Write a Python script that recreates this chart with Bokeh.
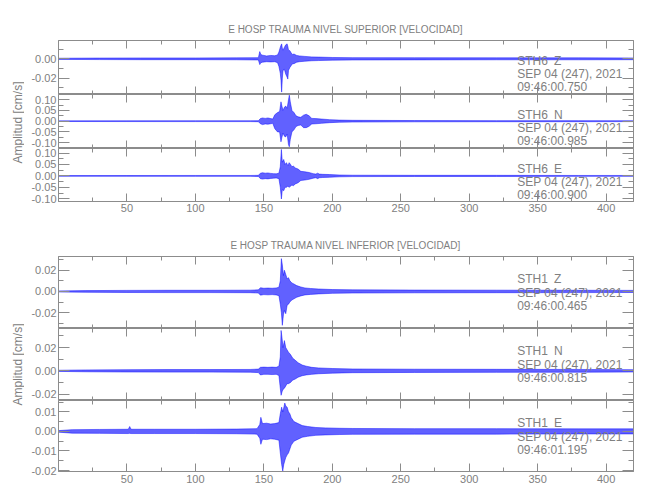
from bokeh.plotting import figure
from bokeh.models import Range1d, LinearAxis, FixedTicker, PrintfTickFormatter, Label, ColumnDataSource
from bokeh.layouts import column, row
from bokeh.embed import file_html
from bokeh.resources import INLINE

# ---------------- data (envelopes, cm/s vs seconds) ----------------
TITLE_TOP = "E HOSP TRAUMA NIVEL SUPERIOR [VELOCIDAD]"
TITLE_BOTTOM = "E HOSP TRAUMA NIVEL INFERIOR [VELOCIDAD]"
Y_LABEL = "Amplitud [cm/s]"

X_TICKS = [50, 100, 150, 200, 250, 300, 350, 400]
X_MINOR = [25, 75, 125, 175, 225, 275, 325, 375]

# STH6 Z
t1 = [0, 30, 60, 100, 130, 146, 147, 147.8, 149, 152, 155, 158, 160, 161, 162, 162.5, 163, 163.5, 164, 165, 166, 167, 167.5, 168, 169, 170, 171, 172, 174, 176, 180, 185, 190, 200, 215, 260, 320, 380, 420]
up1 = [0.0006, 0.0008, 0.0009, 0.0009, 0.001, 0.0012, 0.0075, 0.0045, 0.0038, 0.003, 0.0035, 0.0032, 0.004, 0.007, 0.012, 0.014, 0.0155, 0.011, 0.009, 0.012, 0.0145, 0.0155, 0.013, 0.009, 0.0085, 0.006, 0.0045, 0.005, 0.0035, 0.003, 0.0025, 0.002, 0.0018, 0.0014, 0.0012, 0.0011, 0.001, 0.001, 0.0009]
lo1 = [-0.0006, -0.0008, -0.0009, -0.0009, -0.001, -0.0012, -0.006, -0.004, -0.0035, -0.003, -0.0032, -0.003, -0.004, -0.008, -0.015, -0.022, -0.0345, -0.02, -0.012, -0.011, -0.016, -0.019, -0.021, -0.012, -0.009, -0.007, -0.005, -0.005, -0.0035, -0.003, -0.0025, -0.002, -0.0018, -0.0014, -0.0012, -0.0011, -0.001, -0.001, -0.0009]

# STH6 N
t2 = [0, 50, 100, 140, 146, 147.5, 149, 151, 153, 155, 156.5, 158, 160, 161.5, 162.5, 163.2, 164, 165, 166, 167, 168, 168.6, 169.3, 170.5, 172, 173.5, 175, 177, 179, 181, 183, 185, 188, 192, 198, 205, 215, 260, 320, 380, 420]
up2 = [0.0015, 0.0018, 0.002, 0.002, 0.0025, 0.012, 0.015, 0.013, 0.015, 0.012, 0.01, 0.03, 0.04, 0.045, 0.09, 0.07, 0.05, 0.065, 0.07, 0.06, 0.1, 0.121, 0.09, 0.05, 0.04, 0.025, 0.02, 0.018, 0.028, 0.032, 0.025, 0.013, 0.012, 0.01, 0.007, 0.005, 0.004, 0.003, 0.0025, 0.0025, 0.002]
lo2 = [-0.0015, -0.0018, -0.002, -0.002, -0.0025, -0.012, -0.016, -0.013, -0.014, -0.012, -0.01, -0.035, -0.05, -0.05, -0.096, -0.075, -0.055, -0.07, -0.073, -0.06, -0.11, -0.119, -0.085, -0.05, -0.04, -0.025, -0.02, -0.018, -0.03, -0.03, -0.024, -0.013, -0.012, -0.01, -0.007, -0.005, -0.004, -0.003, -0.0025, -0.0025, -0.002]

# STH6 E
t3 = [0, 50, 100, 140, 146, 147.5, 149, 151, 153, 155, 157, 159, 161, 162, 162.8, 163.5, 164.5, 165.5, 166.5, 167.5, 168.5, 169.5, 170.5, 171.5, 173, 175, 177, 180, 183, 186, 188, 189.3, 190.5, 193, 198, 205, 215, 260, 320, 380, 420]
up3 = [0.0015, 0.0018, 0.002, 0.002, 0.0025, 0.012, 0.014, 0.012, 0.013, 0.011, 0.01, 0.009, 0.012, 0.04, 0.116, 0.06, 0.072, 0.05, 0.058, 0.045, 0.058, 0.05, 0.04, 0.043, 0.035, 0.03, 0.02, 0.018, 0.015, 0.01, 0.008, 0.012, 0.008, 0.007, 0.006, 0.004, 0.003, 0.0025, 0.0025, 0.002, 0.002]
lo3 = [-0.0015, -0.0018, -0.002, -0.002, -0.0025, -0.012, -0.014, -0.012, -0.013, -0.011, -0.01, -0.009, -0.012, -0.05, -0.101, -0.06, -0.065, -0.05, -0.05, -0.045, -0.05, -0.045, -0.04, -0.043, -0.035, -0.03, -0.02, -0.018, -0.015, -0.01, -0.008, -0.012, -0.008, -0.007, -0.006, -0.004, -0.003, -0.0025, -0.0025, -0.002, -0.002]

# STH1 Z
t4 = [0, 20, 50, 80, 110, 140, 146, 147.5, 150, 153, 156, 159, 161, 162, 162.8, 163.5, 164.3, 165, 166, 167, 168, 169, 170.5, 172, 174, 177, 180, 184, 190, 200, 215, 260, 320, 380, 420]
up4 = [0.0005, 0.0008, 0.001, 0.0011, 0.0011, 0.0012, 0.0015, 0.0035, 0.003, 0.0032, 0.003, 0.0033, 0.004, 0.01, 0.031, 0.025, 0.015, 0.02, 0.016, 0.012, 0.013, 0.01, 0.008, 0.007, 0.0055, 0.0042, 0.0033, 0.0028, 0.0023, 0.0018, 0.0015, 0.0013, 0.0012, 0.0011, 0.001]
lo4 = [-0.0005, -0.0008, -0.001, -0.0011, -0.0011, -0.0012, -0.0015, -0.0035, -0.003, -0.0032, -0.003, -0.0033, -0.004, -0.012, -0.02, -0.032, -0.022, -0.018, -0.021, -0.013, -0.012, -0.01, -0.008, -0.007, -0.0055, -0.0042, -0.0033, -0.0028, -0.0023, -0.0018, -0.0015, -0.0013, -0.0012, -0.0011, -0.001]

# STH1 N
t5 = [0, 20, 50, 80, 110, 140, 146, 147.5, 150, 153, 156, 159, 161, 162, 162.6, 163.3, 164, 165, 166, 167, 168, 169.5, 171, 173, 175, 178, 181, 185, 190, 200, 215, 260, 320, 380, 420]
up5 = [0.0005, 0.0008, 0.001, 0.0011, 0.0011, 0.0012, 0.0015, 0.003, 0.0032, 0.003, 0.0032, 0.003, 0.004, 0.012, 0.0347, 0.028, 0.02, 0.026, 0.02, 0.018, 0.016, 0.014, 0.011, 0.009, 0.007, 0.005, 0.004, 0.003, 0.0025, 0.002, 0.0016, 0.0014, 0.0013, 0.0012, 0.001]
lo5 = [-0.0005, -0.0008, -0.001, -0.0011, -0.0011, -0.0012, -0.0015, -0.0035, -0.003, -0.003, -0.0032, -0.003, -0.004, -0.015, -0.021, -0.018, -0.016, -0.015, -0.013, -0.011, -0.011, -0.01, -0.008, -0.007, -0.0055, -0.0042, -0.0035, -0.003, -0.0025, -0.002, -0.0016, -0.0014, -0.0013, -0.0012, -0.001]

# STH1 E
t6 = [0, 10, 30, 51, 52, 53, 70, 100, 130, 145, 147, 147.8, 149, 152, 155, 158, 161, 162, 163, 163.8, 164.5, 165.3, 166, 167, 168, 169, 170, 172, 175, 178, 182, 188, 195, 205, 215, 260, 320, 380, 420]
up6 = [0.0004, 0.0009, 0.001, 0.0011, 0.0025, 0.0011, 0.0011, 0.0011, 0.0012, 0.0014, 0.0035, 0.0072, 0.004, 0.0042, 0.0038, 0.004, 0.0045, 0.009, 0.0124, 0.01, 0.012, 0.0145, 0.013, 0.0124, 0.01, 0.009, 0.007, 0.005, 0.004, 0.003, 0.0025, 0.002, 0.0018, 0.0016, 0.0015, 0.0014, 0.0014, 0.0013, 0.0013]
lo6 = [-0.0004, -0.0009, -0.001, -0.0011, -0.001, -0.0011, -0.0011, -0.0011, -0.0012, -0.0014, -0.0035, -0.0066, -0.004, -0.0042, -0.0038, -0.004, -0.0045, -0.011, -0.0169, -0.0203, -0.017, -0.015, -0.0134, -0.012, -0.011, -0.009, -0.007, -0.005, -0.004, -0.003, -0.0025, -0.002, -0.0018, -0.0016, -0.0015, -0.0014, -0.0014, -0.0013, -0.0013]

STATION1, COMP1, DATE1, TIME1 = "STH6", "Z", "SEP 04 (247), 2021", "09:46:00.750"
STATION2, COMP2, DATE2, TIME2 = "STH6", "N", "SEP 04 (247), 2021", "09:46:00.985"
STATION3, COMP3, DATE3, TIME3 = "STH6", "E", "SEP 04 (247), 2021", "09:46:00.900"
STATION4, COMP4, DATE4, TIME4 = "STH1", "Z", "SEP 04 (247), 2021", "09:46:00.465"
STATION5, COMP5, DATE5, TIME5 = "STH1", "N", "SEP 04 (247), 2021", "09:46:00.815"
STATION6, COMP6, DATE6, TIME6 = "STH1", "E", "SEP 04 (247), 2021", "09:46:01.195"

Y1_TICKS = [-0.02, 0.0]
Y2_TICKS = [-0.10, -0.05, 0.0, 0.05, 0.10]
Y3_TICKS = [-0.10, -0.05, 0.0, 0.05, 0.10]
Y4_TICKS = [-0.02, 0.0, 0.02]
Y5_TICKS = [-0.02, 0.0, 0.02]
Y6_TICKS = [-0.02, -0.01, 0.0, 0.01]

# ---------------- styling ----------------
FONT = "Liberation Sans"
GRAY = "#808080"
AXIS_GRAY = "#8c8c8c"
BLUE = "#0000ff"
LEFT_STRIP = 24
FRAME_W = 575


def minor_between(ticks, step, lo, hi):
    out = []
    v = ticks[0]
    while v - step >= lo:
        v -= step
    while v <= hi:
        out.append(round(v, 6))
        v += step
    return out


def style_axis(ax, major_len, minor_len, show_labels, standoff=2):
    ax.axis_line_color = AXIS_GRAY
    ax.major_tick_line_color = AXIS_GRAY
    ax.minor_tick_line_color = AXIS_GRAY
    ax.major_tick_in = major_len
    ax.major_tick_out = 0
    ax.minor_tick_in = minor_len
    ax.minor_tick_out = 0
    ax.major_label_text_font = FONT
    ax.major_label_text_font_size = "11px"
    if show_labels:
        ax.major_label_text_color = GRAY
        ax.major_label_standoff = standoff
    else:
        ax.major_label_text_color = None
        ax.major_label_standoff = 0


def panel(t, up, lo, yr, yticks, ystep, frame_h, top_b, bot_b, x_labels, notes,
          note_offsets, title=None, x_standoff=2):
    p = figure(frame_width=FRAME_W, frame_height=frame_h,
               x_range=Range1d(0, 420), y_range=Range1d(*yr),
               output_backend="svg", toolbar_location=None,
               x_axis_location=None, y_axis_location=None,
               min_border_left=58 - LEFT_STRIP, min_border_right=9,
               min_border_top=top_b, min_border_bottom=bot_b,
               background_fill_color="white", border_fill_color="white")
    p.outline_line_color = AXIS_GRAY
    p.grid.visible = False
    if title:
        p.title.text = title
        p.title.align = "center"
        p.title.text_font = FONT
        p.title.text_font_size = "10px"
        p.title.text_font_style = "normal"
        p.title.text_color = GRAY
        p.title.standoff = 11

    yminor = minor_between(yticks, ystep, yr[0], yr[1])
    for loc in ("below", "above"):
        ax = LinearAxis(ticker=FixedTicker(ticks=X_TICKS, minor_ticks=X_MINOR))
        style_axis(ax, 8, 4, loc == "below" and x_labels, standoff=x_standoff)
        p.add_layout(ax, loc)
    for loc in ("left", "right"):
        ax = LinearAxis(ticker=FixedTicker(ticks=yticks, minor_ticks=yminor),
                        formatter=PrintfTickFormatter(format="%.2f"))
        style_axis(ax, 11, 5, loc == "left", standoff=2)
        p.add_layout(ax, loc)

    src = ColumnDataSource(dict(t=t, up=up, lo=lo))
    p.varea(x="t", y1="lo", y2="up", source=src, fill_color=BLUE, fill_alpha=0.62)
    p.line(x="t", y="up", source=src, line_color=BLUE, line_width=0.55, line_alpha=0.85)
    p.line(x="t", y="lo", source=src, line_color=BLUE, line_width=0.55, line_alpha=0.85)

    station, comp, date, time = notes
    span = yr[1] - yr[0]
    ys = [yr[1] - off / frame_h * span for off in note_offsets]
    common = dict(text_font=FONT, text_font_size="12px", text_color=GRAY,
                  text_baseline="alphabetic", text_align="left")
    p.add_layout(Label(x=335, y=ys[0], text=station, **common))
    p.add_layout(Label(x=362, y=ys[0], text=comp, **common))
    p.add_layout(Label(x=335, y=ys[1], text=date, **common))
    p.add_layout(Label(x=335, y=ys[2], text=time, **common))
    return p


def strip(height, center_from_top):
    s = figure(width=LEFT_STRIP, height=height, x_range=Range1d(0, LEFT_STRIP),
               y_range=Range1d(0, height), output_backend="svg", toolbar_location=None,
               x_axis_location=None, y_axis_location=None,
               min_border=0, background_fill_color="white", border_fill_color="white")
    s.outline_line_color = None
    s.grid.visible = False
    s.add_layout(Label(x=17.5, y=height - center_from_top, text=Y_LABEL, angle=90,
                       angle_units="deg", text_font=FONT, text_font_size="12px",
                       text_color=GRAY, text_align="center", text_baseline="middle"))
    return s


TOP_OFF = (20.5, 33.8, 46.8)
BOT_OFF = (22, 36, 49.5)

p1 = panel(t1, up1, lo1, (-0.037, 0.019), Y1_TICKS, 0.01, 54, 40, 0, False,
           (STATION1, COMP1, DATE1, TIME1), TOP_OFF, title=TITLE_TOP)
p2 = panel(t2, up2, lo2, (-0.127, 0.124), Y2_TICKS, 0.025, 54, 0, 0, False,
           (STATION2, COMP2, DATE2, TIME2), TOP_OFF)
p3 = panel(t3, up3, lo3, (-0.112, 0.12), Y3_TICKS, 0.025, 53, 0, 27, True,
           (STATION3, COMP3, DATE3, TIME3), TOP_OFF, x_standoff=2)
p4 = panel(t4, up4, lo4, (-0.035, 0.033), Y4_TICKS, 0.01, 72, 28, 0, False,
           (STATION4, COMP4, DATE4, TIME4), BOT_OFF, title=TITLE_BOTTOM)
p5 = panel(t5, up5, lo5, (-0.0255, 0.0364), Y5_TICKS, 0.01, 72, 0, 0, False,
           (STATION5, COMP5, DATE5, TIME5), BOT_OFF)
p6 = panel(t6, up6, lo6, (-0.0205, 0.0158), Y6_TICKS, 0.005, 71, 0, 21, True,
           (STATION6, COMP6, DATE6, TIME6), BOT_OFF, x_standoff=3)

top_group = row(strip(228, 122), column(p1, p2, p3, spacing=0), spacing=0)
bottom_group = row(strip(264, 136), column(p4, p5, p6, spacing=0), spacing=0)
layout = column(top_group, bottom_group, spacing=0)
open("out.html", "w").write(file_html(layout, INLINE))
